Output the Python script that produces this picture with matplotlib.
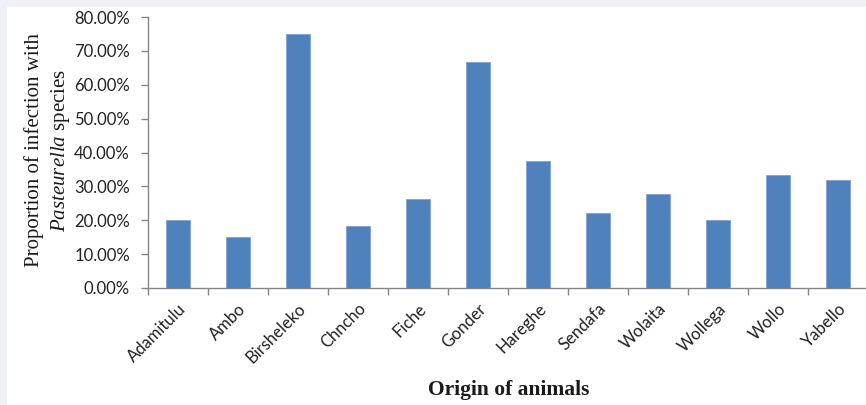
import matplotlib
matplotlib.use("Agg")
import matplotlib.pyplot as plt
from matplotlib.patches import Rectangle
import numpy as np

# Infection proportion by animal origin
origins = ["Adamitulu", "Ambo", "Birsheleko", "Chncho", "Fiche", "Gonder",
           "Hareghe", "Sendafa", "Wolaita", "Wollega", "Wollo", "Yabello"]
proportion = [0.20, 0.15, 0.75, 0.1818, 0.2632, 0.6667,
              0.375, 0.2222, 0.2778, 0.20, 0.3333, 0.3182]
y_ticks = [0.0, 0.1, 0.2, 0.3, 0.4, 0.5, 0.6, 0.7, 0.8]

plt.rcParams["mathtext.fontset"] = "custom"
plt.rcParams["mathtext.rm"] = "Liberation Serif"
plt.rcParams["mathtext.it"] = "Liberation Serif:italic"

W, H = 866, 405
fig = plt.figure(figsize=(W / 100, H / 100), dpi=100)
fig.patch.set_facecolor("#eff1f7")
fig.patches.append(Rectangle((7 / W, 0), 1, (H - 7) / H, transform=fig.transFigure,
                             facecolor="white", edgecolor="none", zorder=-5))

ax_left, ax_right = 148, 868
ax_top, ax_bottom = 17, 288
ax = fig.add_axes([ax_left / W, (H - ax_bottom) / H,
                   (ax_right - ax_left) / W, (ax_bottom - ax_top) / H])
ax.set_facecolor("none")
ax.set_zorder(2)

x = np.arange(len(origins))
ax.bar(x, proportion, width=0.4, color="#4f81bd", edgecolor="#7fa3d0", linewidth=0.6, zorder=3)

ax.set_xlim(-0.5, len(origins) - 0.5)
ax.set_ylim(0, 0.8)

axis_color = "#868686"
for side in ("top", "right"):
    ax.spines[side].set_visible(False)
for side in ("left", "bottom"):
    ax.spines[side].set_color(axis_color)
    ax.spines[side].set_linewidth(1.0)

tick_font = {"family": "Lato", "size": 12, "color": "#222222"}

ax.set_yticks(y_ticks)
ax.set_yticklabels([f"{v * 100:.2f}%" for v in y_ticks], fontdict=tick_font)
ax.tick_params(axis="y", length=5, width=1.0, color=axis_color, pad=8)

ax.set_xticks(x)
ax.set_xticklabels(origins, fontdict=tick_font, rotation=45, ha="right",
                   rotation_mode="anchor")
ax.set_xticks(np.arange(len(origins) + 1) - 0.5, minor=True)
ax.tick_params(axis="x", which="major", length=0, pad=9)
ax.tick_params(axis="x", which="minor", length=5, width=1.0, color=axis_color)

fig.text(509 / W, 1 - 390 / H, "Origin of animals", ha="center", va="center",
         family="Liberation Serif", weight="bold", size=15.5, color="#1a1a1a")

fig.text(48 / W, 1 - 150 / H, "Proportion of infection with\n$\\mathit{Pasteurella}$ species",
         ha="center", va="center", rotation=90, family="Liberation Serif",
         size=15, color="#1a1a1a", linespacing=1.3, multialignment="center")

fig.savefig("out.png", dpi=100)
